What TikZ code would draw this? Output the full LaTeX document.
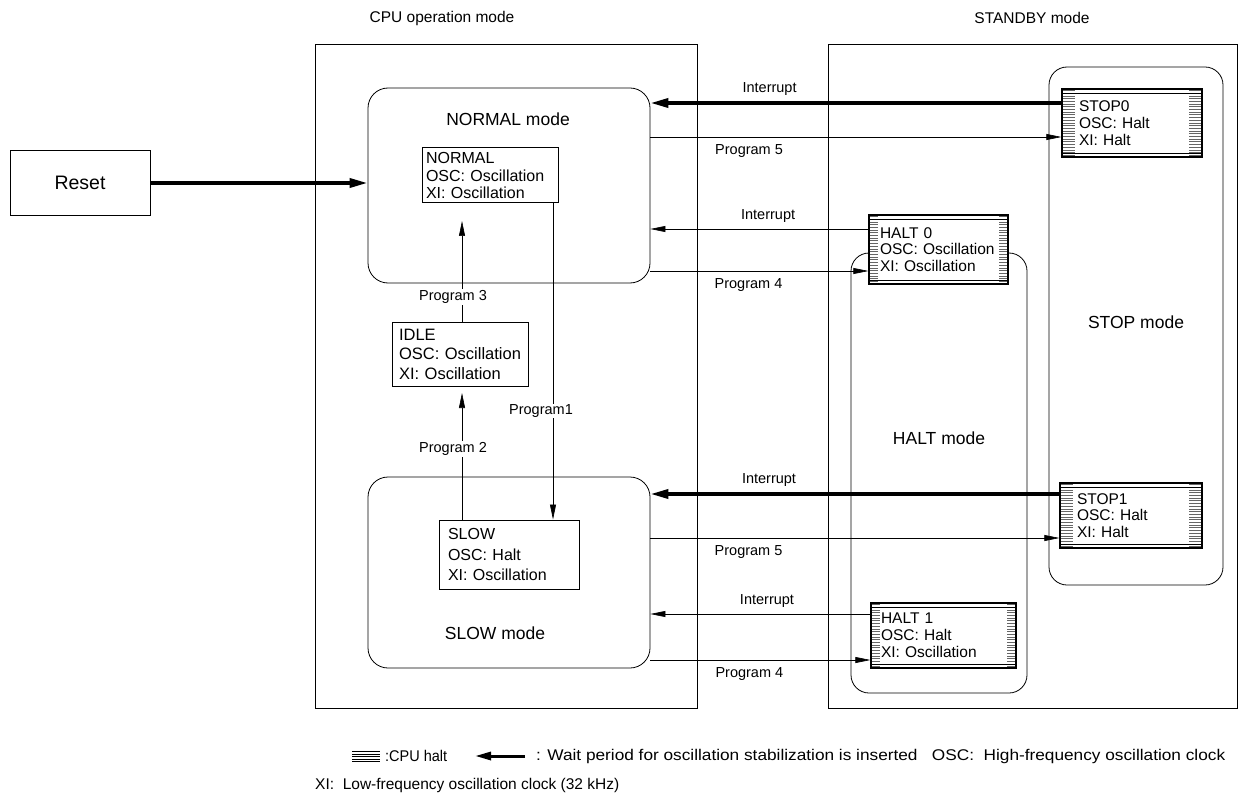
\documentclass[tikz,border=0pt]{standalone}
\usepackage{fontspec}
\setmainfont{Liberation Sans}
\usetikzlibrary{arrows.meta}
\begin{document}
\begin{tikzpicture}[x=1pt,y=-1pt,
  every node/.style={font=\fontsize{15}{17.5}\selectfont, inner sep=0pt},
  frame/.style={draw, line width=0.8pt},
  modebox/.style={draw, rounded corners=20pt, line width=0.8pt},
  sbox/.style={draw, fill=white, line width=1pt, align=left},
  halt/.style={draw, fill=white, line width=1.3pt, align=left,
    font=\fontsize{15.5}{16.8}\selectfont, path picture={
    \foreach \k in {1.5,4.2,...,90}{
      \draw[line width=0.6pt, black!60] ([yshift=-\k pt]path picture bounding box.north west) -- ++(#1,0pt);
      \draw[line width=0.6pt, black!60] ([yshift=-\k pt]path picture bounding box.north east) -- ++(-#1,0pt);
    }
    \draw[line width=0.7pt] ([yshift=-4pt]path picture bounding box.north west) -- ([yshift=-4pt]path picture bounding box.north east);
    \draw[line width=0.7pt] ([yshift=4pt]path picture bounding box.south west) -- ([yshift=4pt]path picture bounding box.south east);
  }},
  thinarr/.style={line width=0.6pt, -{Triangle[length=15pt,width=6pt]}},
  thickarr/.style={line width=3.5pt, -{Triangle[length=18pt,width=9pt]}},
  lbl/.style={font=\fontsize{14.5}{17}\selectfont},
  modelbl/.style={font=\fontsize{17.5}{20}\selectfont},
  titlelbl/.style={font=\fontsize{15.5}{18}\selectfont},
  legend/.style={font=\fontsize{15.5}{18}\selectfont},
]
\useasboundingbox (0,0) rectangle (1238,794);

% frames
\node[frame, minimum width=382, minimum height=664] (cpu) at (506,376) {};
\node[frame, minimum width=409, minimum height=664] (stb) at (1032.5,376) {};
\node[titlelbl] (cputitle) at (442,18) {CPU operation mode};
\node[titlelbl] (stbtitle) at (1032,18) {STANDBY mode};

% mode boxes
\node[modebox, minimum width=282, minimum height=195] (normalmode) at (509,185.5) {};
\node[modelbl] (normallbl) at (508,119) {NORMAL mode};
\node[modebox, minimum width=282, minimum height=191] (slowmode) at (509,572.5) {};
\node[modelbl] (slowlbl) at (495,633) {SLOW mode};
\node[modebox, minimum width=176, minimum height=440, rounded corners=18pt] (haltmode) at (939,473) {};
\node[modelbl] (haltlbl) at (939,438) {HALT mode};
\node[modebox, minimum width=174, minimum height=518, rounded corners=18pt] (stopmode) at (1136,326) {};
\node[modelbl] (stoplbl) at (1136,322) {STOP mode};

% reset
\node[draw, line width=0.8pt, minimum width=140, minimum height=65, font=\fontsize{19.5}{22}\selectfont] (reset) at (80,182.5) {Reset};

% state boxes
\node[sbox, minimum width=136, minimum height=55, text width=128, inner xsep=4pt, font=\fontsize{16}{17.5}\selectfont] (normal) at (490,175.5) {NORMAL\\OSC: Oscillation\\XI: Oscillation};
\node[sbox, minimum width=136, minimum height=64, text width=122, inner xsep=7pt, font=\fontsize{16.5}{19.5}\selectfont] (idle) at (460,354) {IDLE\\OSC: Oscillation\\XI: Oscillation};
\node[sbox, minimum width=140, minimum height=69, text width=122, inner xsep=9pt, font=\fontsize{16}{20.5}\selectfont] (slow) at (509,554.5) {SLOW\\OSC: Halt\\XI: Oscillation};

\node[halt=13pt, minimum width=140, minimum height=68, text width=106, inner xsep=17pt] (stop0) at (1132,123) {STOP0\\OSC: Halt\\XI: Halt};
\node[halt=9pt, minimum width=139, minimum height=69, text width=117, inner xsep=11pt] (halt0) at (938.5,249.5) {HALT 0\\OSC: Oscillation\\XI: Oscillation};
\node[halt=13pt, minimum width=142, minimum height=65, text width=108, inner xsep=17pt] (stop1) at (1131,515.5) {STOP1\\OSC: Halt\\XI: Halt};
\node[halt=9pt, minimum width=145, minimum height=65, text width=125, inner xsep=10pt] (halt1) at (943.5,635.5) {HALT 1\\OSC: Halt\\XI: Oscillation};

% reset arrow
\draw[thickarr] (reset.east |- 0,183) -- (normalmode.west |- 0,183);

% horizontal transitions
\draw[thickarr] (stop0.west |- 0,103) -- (normalmode.east |- 0,103) node[lbl, pos=0.71, above=6pt] (i1) {Interrupt};
\draw[thinarr] (normalmode.east |- 0,137) -- (stop0.west |- 0,137) node[lbl, pos=0.24, below=7pt] (p5a) {Program 5};
\draw[thinarr] (halt0.west |- 0,229) -- (normalmode.east |- 0,229) node[lbl, pos=0.46, above=6pt] (i2) {Interrupt};
\draw[thinarr] (normalmode.east |- 0,271) -- (halt0.west |- 0,271) node[lbl, pos=0.45, below=7pt] (p4a) {Program 4};
\draw[thickarr] (stop1.west |- 0,494) -- (slowmode.east |- 0,494) node[lbl, pos=0.71, above=6pt] (i3) {Interrupt};
\draw[thinarr] (slowmode.east |- 0,538) -- (stop1.west |- 0,538) node[lbl, pos=0.24, below=7pt] (p5b) {Program 5};
\draw[thinarr] (halt1.west |- 0,614) -- (slowmode.east |- 0,614) node[lbl, pos=0.47, above=6pt] (i4) {Interrupt};
\draw[thinarr] (slowmode.east |- 0,660) -- (halt1.west |- 0,660) node[lbl, pos=0.45, below=7pt] (p4b) {Program 4};

% vertical transitions
\coordinate (p3end) at (462,221);
\draw[thinarr] (idle.north -| 462,0) -- (p3end);
\node[lbl, fill=white, inner sep=1pt] (p3) at (453,297) {Program 3};
\coordinate (p2end) at (462,393);
\draw[thinarr] (slow.north -| 462,0) -- (p2end);
\node[lbl, fill=white, inner sep=1pt] (p2) at (453,449) {Program 2};
\draw[thinarr] (normal.south -| 553,0) -- (slow.north -| 553,0);
\node[lbl, fill=white, inner sep=1pt] (p1) at (541,411) {Program1};

% legend
\foreach \yy in {751.5,754,756.5,759,761.5}{
  \draw[line width=0.6pt] (352,\yy) -- (380,\yy);
}
\node[legend, anchor=west] (lg1) at (385,756) {\resizebox{62pt}{\height}{:CPU halt}};
\coordinate (lgA) at (525,756);
\coordinate (lgB) at (475,756);
\draw[line width=3pt, -{Triangle[length=16pt,width=8pt]}] (lgA) -- (lgB);
\node[legend, anchor=west] (lg2) at (536,756) {\resizebox{689pt}{\height}{: Wait period for oscillation stabilization is inserted\ \ \ OSC:\ \ High-frequency oscillation clock}};
\node[legend, anchor=west] (lg3) at (315,785) {XI:\ \ Low-frequency oscillation clock (32 kHz)};
\end{tikzpicture}
\end{document}
